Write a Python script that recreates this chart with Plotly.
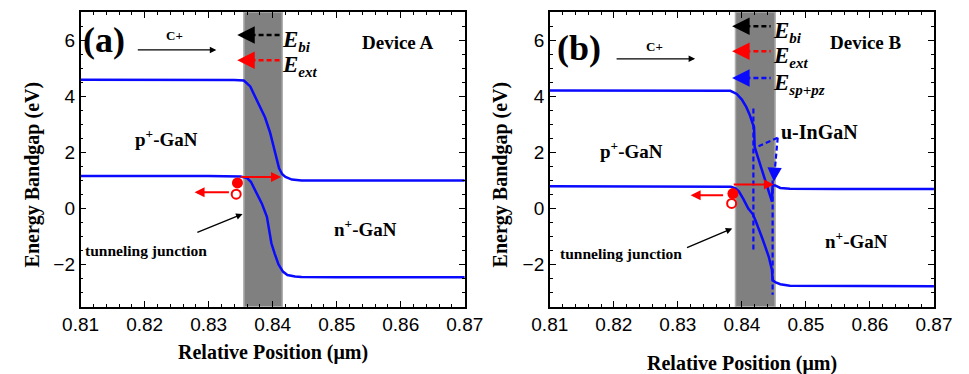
import plotly.graph_objects as go

# ---------------- data ----------------
# Panel (a) Device A
xa_cb = [0.810, 0.820, 0.830, 0.834, 0.8355, 0.8365, 0.8373, 0.8380, 0.8388, 0.8396, 0.8403, 0.8410, 0.8415, 0.8420, 0.8430, 0.8445, 0.850, 0.860, 0.870]
ya_cb = [4.59, 4.59, 4.59, 4.58, 4.56, 4.35, 3.96, 3.62, 3.25, 2.70, 2.07, 1.43, 1.22, 1.12, 1.03, 1.00, 1.00, 1.00, 1.00]
xa_vb = [0.810, 0.820, 0.830, 0.835, 0.8360, 0.8366, 0.8373, 0.8383, 0.8391, 0.8398, 0.8403, 0.8409, 0.8416, 0.8423, 0.8435, 0.8445, 0.850, 0.860, 0.870]
ya_vb = [1.16, 1.17, 1.16, 1.14, 1.08, 0.95, 0.65, 0.18, -0.30, -1.24, -1.60, -1.99, -2.25, -2.37, -2.42, -2.44, -2.45, -2.45, -2.45]

# Panel (b) Device B
xb_cb = [0.810, 0.820, 0.830, 0.8382, 0.8392, 0.8400, 0.8407, 0.8412, 0.8417, 0.8419, 0.8420, 0.8430, 0.8440, 0.8447, 0.8448, 0.8452, 0.8460, 0.8475, 0.855, 0.870]
yb_cb = [4.20, 4.20, 4.20, 4.19, 4.08, 3.88, 3.61, 3.35, 3.02, 2.90, 2.19, 1.46, 0.74, 0.24, 0.83, 0.82, 0.73, 0.70, 0.69, 0.69]
xb_vb = [0.810, 0.820, 0.830, 0.8383, 0.8390, 0.8395, 0.8402, 0.8410, 0.8417, 0.8419, 0.8421, 0.8432, 0.8442, 0.8447, 0.8448, 0.8452, 0.8460, 0.8475, 0.855, 0.870]
yb_vb = [0.79, 0.79, 0.79, 0.77, 0.72, 0.62, 0.35, 0.00, -0.20, -0.30, -0.41, -1.07, -1.72, -2.19, -2.55, -2.63, -2.70, -2.75, -2.76, -2.77]

band_a = [0.8355, 0.8415]
band_b = [0.8390, 0.8452]
inl_lines_x = [0.8418, 0.8448]
inl_lines_y = [[3.56, -1.48], [1.0, -3.07]]

xr = [0.81, 0.87]
yr = [-3.5, 7]
xticks = [0.81, 0.82, 0.83, 0.84, 0.85, 0.86, 0.87]
yticks = [-2, 0, 2, 4, 6]

BLUE = "rgb(10,10,255)"
RED = "rgb(255,0,0)"
SERIF = "Liberation Serif"
SANS = "Liberation Sans"
DASH = "5px,3px"

fig = go.Figure()

def line(x, y, xa, ya, color, width=2.5, dash="solid"):
    fig.add_trace(go.Scatter(x=x, y=y, mode="lines", xaxis=xa, yaxis=ya,
                             line=dict(color=color, width=width, dash=dash),
                             showlegend=False, hoverinfo="skip"))

# bands
line(xa_cb, ya_cb, "x", "y", BLUE)
line(xa_vb, ya_vb, "x", "y", BLUE)
line(xb_cb, yb_cb, "x2", "y2", BLUE)
line(xb_vb, yb_vb, "x2", "y2", BLUE)

# InGaN dashed vertical lines
for xv, yv in zip(inl_lines_x, inl_lines_y):
    line([xv, xv], yv, "x2", "y2", BLUE, width=2.2, dash=DASH)

# u-InGaN dashed pointers
line([0.8456, 0.8426], [2.52, 2.22], "x2", "y2", BLUE, width=2.2, dash=DASH)
line([0.8456, 0.8451], [2.52, 1.25], "x2", "y2", BLUE, width=2.2, dash=DASH)

# field dashed arrows
fld_a = [(6.18, "black", "bi"), (5.28, RED, "ext")]
fld_b = [(6.49, "black", "bi"), (5.60, RED, "ext"), (4.65, BLUE, "sp+pz")]

annotations = []
shapes = []

def arrow(xref, yref, x, y, ax, ay, color, width=1.5, head=2, size=1.2):
    annotations.append(dict(x=x, y=y, ax=ax, ay=ay, xref=xref, yref=yref,
                            axref=xref, ayref=yref, text="", showarrow=True,
                            arrowhead=head, arrowsize=size, arrowwidth=width,
                            arrowcolor=color))

def text(xref, yref, x, y, t, size, color="black", family=SERIF, xanchor="center", **kw):
    annotations.append(dict(x=x, y=y, xref=xref, yref=yref, text=t, showarrow=False,
                            font=dict(family=family, size=size, color=color),
                            xanchor=xanchor, yanchor="middle", **kw))

def elabel(xref, yref, x, y, sub):
    text(xref, yref, x, y - 0.22,
         "<b><i>E</i></b><sub><b><i><span style='font-size:15px'>%s</span></i></b></sub>" % sub,
         23, xanchor="left")

# panel a field arrows
for yv, col, sub in fld_a:
    line([0.8353, 0.8411], [yv, yv], "x", "y", col, width=2.5, dash=DASH)
    arrow("x", "y", 0.83447, yv, 0.8357, yv, col, width=2.5, head=2, size=1.4)
    elabel("x", "y", 0.8412, yv, sub)
for yv, col, sub in fld_b:
    line([0.8393, 0.8445], [yv, yv], "x2", "y2", col, width=2.5, dash=DASH)
    arrow("x2", "y2", 0.83848, yv, 0.8397, yv, col, width=2.5, head=2, size=1.4)
    elabel("x2", "y2", 0.8446, yv, sub)

# C+ arrows
arrow("x", "y", 0.8312, 5.65, 0.8187, 5.65, "black", width=1.3, head=2, size=1.0)
text("x", "y", 0.8247, 6.18, "<b>C+</b>", 13)
arrow("x2", "y2", 0.8327, 5.33, 0.8202, 5.33, "black", width=1.3, head=2, size=1.0)
text("x2", "y2", 0.8264, 5.76, "<b>C+</b>", 13)

# labels
text("x", "y", 0.8136, 6.0, "<b>(a)</b>", 36)
text("x2", "y2", 0.8146, 5.72, "<b>(b)</b>", 36)
text("x", "y", 0.8595, 5.9, "<b>Device A</b>", 19)
text("x2", "y2", 0.8594, 5.9, "<b>Device B</b>", 19)
text("x", "y", 0.8234, 2.5, "<b>p<sup>+</sup>-GaN</b>", 19)
text("x2", "y2", 0.8227, 2.07, "<b>p<sup>+</sup>-GaN</b>", 19)
text("x", "y", 0.8545, -0.71, "<b>n<sup>+</sup>-GaN</b>", 19)
text("x2", "y2", 0.8579, -1.13, "<b>n<sup>+</sup>-GaN</b>", 19)
text("x2", "y2", 0.8521, 2.72, "<b>u-InGaN</b>", 20)
text("x", "y", 0.8202, -1.48, "<b>tunneling junction</b>", 15.5)
text("x2", "y2", 0.8212, -1.60, "<b>tunneling junction</b>", 15.5)

# u-InGaN arrow heads
arrow("x2", "y2", 0.8422, 2.19, 0.8428, 2.25, BLUE, width=2.2, head=2, size=1.3)
arrow("x2", "y2", 0.8450, 0.95, 0.84508, 1.3, BLUE, width=2.2, head=2, size=1.3)

# tunneling arrows
arrow("x", "y", 0.8353, -0.20, 0.8280, -0.87, "black", width=1.3, head=2, size=1.0)
arrow("x2", "y2", 0.8385, -0.71, 0.8312, -1.42, "black", width=1.3, head=2, size=1.0)

# red carrier arrows
arrow("x", "y", 0.8413, 1.12, 0.8348, 1.12, RED, width=2, head=2, size=1.0)
arrow("x", "y", 0.8278, 0.58, 0.8334, 0.58, RED, width=2, head=2, size=1.0)
arrow("x2", "y2", 0.8450, 0.85, 0.8385, 0.85, RED, width=2, head=2, size=1.0)
arrow("x2", "y2", 0.8320, 0.47, 0.8373, 0.47, RED, width=2, head=2, size=1.0)

# carriers
fig.add_trace(go.Scatter(x=[0.8345], y=[0.91], mode="markers", xaxis="x", yaxis="y",
                         marker=dict(size=11, color=RED), showlegend=False))
fig.add_trace(go.Scatter(x=[0.8343], y=[0.51], mode="markers", xaxis="x", yaxis="y",
                         marker=dict(size=9, color="white", line=dict(color=RED, width=2)), showlegend=False))
fig.add_trace(go.Scatter(x=[0.8386], y=[0.53], mode="markers", xaxis="x2", yaxis="y2",
                         marker=dict(size=11, color=RED), showlegend=False))
fig.add_trace(go.Scatter(x=[0.8384], y=[0.18], mode="markers", xaxis="x2", yaxis="y2",
                         marker=dict(size=9, color="white", line=dict(color=RED, width=2)), showlegend=False))

# gray junction bands
for (x0, x1), xref, yref in [(band_a, "x", "y"), (band_b, "x2", "y2")]:
    shapes.append(dict(type="rect", xref=xref, yref=yref, x0=x0, x1=x1, y0=yr[0], y1=yr[1],
                       fillcolor="rgb(128,128,128)", line=dict(color="rgb(175,175,175)", width=1.5),
                       layer="below"))

# axis titles
TF = dict(family=SERIF, size=20, color="black")
annotations.append(dict(x=265 / 969, y=1 - 352 / 374, xref="paper", yref="paper", showarrow=False,
                        xanchor="center", yanchor="middle",
                        text="<b>Relative Position (\u03bcm)</b>", font=TF))
annotations.append(dict(x=752 / 969, y=1 - 363 / 374, xref="paper", yref="paper", showarrow=False,
                        xanchor="center", yanchor="middle",
                        text="<b>Relative Position (\u03bcm)</b>", font=TF))
annotations.append(dict(x=15 / 969, y=1 - 174 / 374, xref="paper", yref="paper", showarrow=False, textangle=-90,
                        xanchor="center", yanchor="middle",
                        text="<b>Energy Bandgap (eV)</b>", font=TF))
annotations.append(dict(x=501 / 969, y=1 - 174 / 374, xref="paper", yref="paper", showarrow=False, textangle=-90,
                        xanchor="center", yanchor="middle",
                        text="<b>Energy Bandgap (eV)</b>", font=TF))

xax = dict(range=xr, tickvals=xticks, ticktext=["%.2f" % v for v in xticks], ticks="inside", ticklen=6,
           tickwidth=1.3, tickcolor="black", showline=True, linecolor="black", linewidth=1.5, mirror="ticks",
           showgrid=False, zeroline=False, tickfont=dict(family=SANS, size=19, color="black"),
           minor=dict(tick0=0.81, dtick=0.002, ticks="inside", ticklen=3, tickcolor="black", tickwidth=1, showgrid=False))
yax = dict(range=yr, tickvals=yticks, ticks="inside", ticklen=6, tickwidth=1.3, tickcolor="black",
           showline=True, linecolor="black", linewidth=1.5, mirror="ticks", showgrid=False, zeroline=False,
           tickfont=dict(family=SANS, size=19, color="black"),
           minor=dict(tick0=0, dtick=0.5, ticks="inside", ticklen=3, tickcolor="black", tickwidth=1, showgrid=False))

ydom = [1 - 306.7 / 374, 1 - 12 / 374]
fig.update_layout(
    width=969, height=374, margin=dict(l=0, r=0, t=0, b=0),
    paper_bgcolor="white", plot_bgcolor="white", showlegend=False,
    xaxis=dict(xax, domain=[65 / 969, 464 / 969], anchor="y"),
    yaxis=dict(yax, domain=ydom, anchor="x"),
    xaxis2=dict(xax, domain=[552.3 / 969, 951.3 / 969], anchor="y2"),
    yaxis2=dict(yax, domain=ydom, anchor="x2"),
    annotations=annotations, shapes=shapes,
)

fig.write_html("out.html")
